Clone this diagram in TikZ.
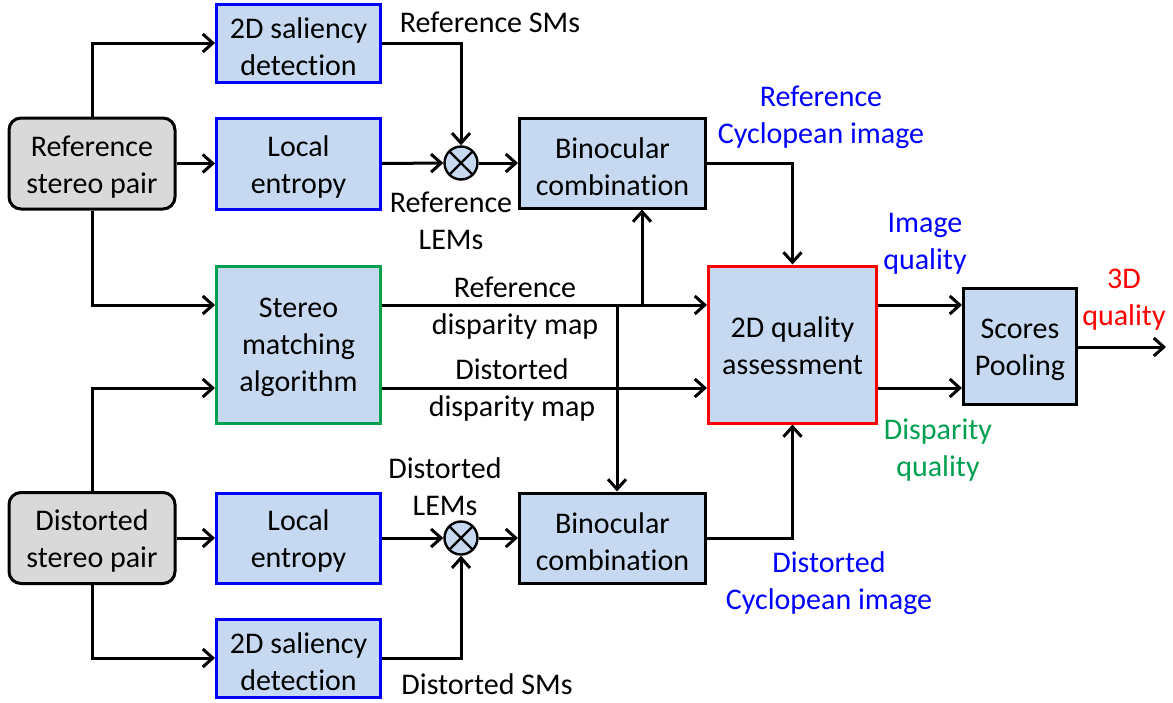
\documentclass[tikz,border=0pt]{standalone}
\usepackage{fontspec}
\setmainfont{Carlito}[Ligatures=NoCommon]
\usetikzlibrary{arrows.meta}
\definecolor{boxfill}{RGB}{198,217,240}
\definecolor{greyfill}{RGB}{217,217,217}
\definecolor{mygreen}{RGB}{0,160,80}
\definecolor{myblue}{RGB}{0,0,255}
\definecolor{myred}{RGB}{255,0,0}
\begin{document}
\begin{tikzpicture}[x=0.5pt,y=-0.5pt,
  every node/.style={font=\fontsize{15}{18.5}\selectfont, align=center, inner sep=0pt},
  txt/.style={label={[yshift=-1.6pt]center:{#1}}},
  txtq/.style={label={[yshift=-0.6pt]center:{#1}}},
  base/.style={draw, line width=1.5pt, fill=boxfill, minimum width=#1},
  blk/.style={base=#1, draw=black},
  bluebox/.style={base=82pt, draw=myblue},
  greenbox/.style={base=82pt, draw=mygreen},
  redbox/.style={base=84pt, draw=myred},
  pairbox/.style={draw=black, line width=1.5pt, fill=greyfill, rounded corners=6pt, minimum width=83pt, minimum height=45.5pt},
  mult/.style={circle, draw=black, line width=1.2pt, fill=boxfill, minimum size=16.5pt,
    path picture={\draw[line width=1.2pt] (path picture bounding box.north west) -- (path picture bounding box.south east)
      (path picture bounding box.north east) -- (path picture bounding box.south west);}},
  arr/.style={line width=1.5pt, -{Straight Barb[length=5pt,width=9pt,line width=1.5pt]}},
]
\useasboundingbox (0,0) rectangle (1173,702);

% nodes
\node[pairbox, txt={Reference\\stereo pair}] (refpair) at (92,163.5) {};
\node[pairbox, txt={Distorted\\stereo pair}] (distpair) at (92,538) {};
\node[bluebox, minimum height=39pt, txt={2D saliency\\detection}] (refsal) at (298.5,43) {};
\node[bluebox, minimum height=45.5pt, txt={Local\\entropy}] (refle) at (298.5,163.5) {};
\node[greenbox, minimum height=78.5pt, txt={Stereo\\matching\\algorithm}] (stereo) at (298.5,344.5) {};
\node[bluebox, minimum height=45pt, txt={Local\\entropy}] (distle) at (298.5,538) {};
\node[bluebox, minimum height=39pt, txt={2D saliency\\detection}] (distsal) at (298.5,658) {};
\node[blk=93pt, minimum height=45pt, txt={Binocular\\combination}] (refbin) at (612.5,163) {};
\node[blk=93pt, minimum height=45pt, txt={Binocular\\combination}] (distbin) at (612.5,538) {};
\node[redbox, minimum height=78.5pt, txtq={2D quality\\assessment}] (quality) at (792.5,344.5) {};
\node[blk=56.5pt, minimum height=58pt, txt={Scores\\Pooling}] (scores) at (1020,346.5) {};
\node[mult] (refx) at (461,163) {};
\node[mult] (distx) at (461,538) {};

% helper coordinates
\coordinate (r1) at (0,305);
\coordinate (r2) at (0,388);
\coordinate (jup) at (642,305);
\coordinate (jdn) at (617,305);
\coordinate (outend) at (1166,347);

% connectors
\draw[arr] (refpair.north) |- (refsal.west);
\draw[arr] (refpair.east) -- (refle.west);
\draw[arr] (refpair.south) |- (stereo.west |- r1);
\draw[arr] (distpair.north) |- (stereo.west |- r2);
\draw[arr] (distpair.east) -- (distle.west);
\draw[arr] (distpair.south) |- (distsal.west);

\draw[arr] (refsal.east) -| (refx.north);
\draw[arr] (refle.east) -- (refx.west);
\draw[arr] (refx.east) -- (refbin.west);
\draw[arr] (distsal.east) -| (distx.south);
\draw[arr] (distle.east) -- (distx.west);
\draw[arr] (distx.east) -- (distbin.west);

\draw[arr] (stereo.east |- r1) -- (quality.west |- r1);
\draw[arr] (stereo.east |- r2) -- (quality.west |- r2);
\draw[arr] (jup) -- (refbin.south -| jup);
\draw[arr] (jdn) -- (distbin.north -| jdn);

\draw[arr] (refbin.east) -| (quality.north);
\draw[arr] (distbin.east) -| (quality.south);

\draw[arr] (quality.east |- r1) -- (scores.west |- r1);
\draw[arr] (quality.east |- r2) -- (scores.west |- r2);
\draw[arr] (scores.east |- outend) -- (outend);

% labels
\node (l1) at (490,22) {Reference SMs};
\node (l2) at (451,221) {Reference\\LEMs};
\node[text=myblue] (l3) at (821,117) {Reference\\Cyclopean image};
\node[text=myblue] (l4) at (925,244) {Image\\quality};
\node[text=myred] (l5) at (1124,300) {3D\\quality};
\node (l6) at (515,308) {Reference\\disparity map};
\node (l7) at (512,390) {Distorted\\disparity map};
\node (l8) at (445,487) {Distorted\\LEMs};
\node (l9) at (487,684) {Distorted SMs};
\node[text=myblue] (l10) at (829,583) {Distorted\\Cyclopean image};
\node[text=mygreen] (l11) at (938,450) {Disparity\\quality};
\end{tikzpicture}
\end{document}
